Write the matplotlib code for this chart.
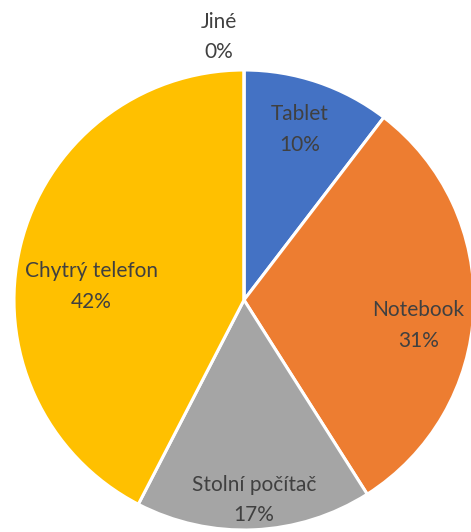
import matplotlib
matplotlib.use("Agg")
from matplotlib import pyplot as plt
import numpy as np

# data
categories = ["Tablet", "Notebook", "Stolní počítač", "Chytrý telefon", "Jiné"]
values = [10.4, 30.6, 16.6, 42.4, 0.0]
percent_labels = ["10%", "31%", "17%", "42%", "0%"]
colors = ["#4472C4", "#ED7D31", "#A5A5A5", "#FFC000", "#5B9BD5"]

# label placement (angle in degrees from x-axis, distance as fraction of radius)
label_pos = [(71.8, 0.78), (-8.3, 0.765), (-87.2, 0.87), (175.0, 0.665), (95.4, 1.148)]

plt.rcParams['font.family'] = ['Lato', 'DejaVu Sans']

fig = plt.figure(figsize=(4.71, 5.32), dpi=100)
ax = fig.add_axes([14 / 471, 2 / 532, 460 / 471, 460 / 532])

ax.pie(values, colors=colors, startangle=90, counterclock=False,
       wedgeprops=dict(edgecolor="white", linewidth=2.2), radius=1.0)

for cat, pct, (ang, dist) in zip(categories, percent_labels, label_pos):
    a = np.deg2rad(ang)
    ax.text(dist * np.cos(a), dist * np.sin(a), cat + "\n" + pct,
            ha="center", va="center", fontsize=15, color="#404040",
            linespacing=1.65)

ax.set_xlim(-1, 1)
ax.set_ylim(-1, 1)
ax.set_aspect("equal")
ax.axis("off")

plt.savefig("out.png", dpi=100)
